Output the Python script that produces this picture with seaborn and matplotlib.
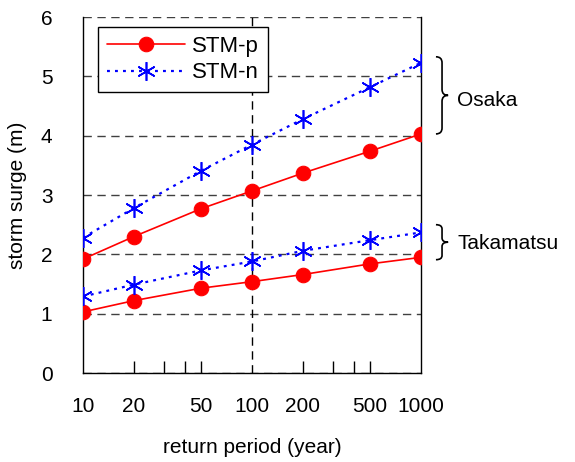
import numpy as np
import pandas as pd
import seaborn as sns
import matplotlib.pyplot as plt
from matplotlib.path import Path
from matplotlib.patches import PathPatch
import matplotlib.transforms as mtransforms

sns.set_style("white")
plt.rcParams['font.family'] = ['Liberation Sans', 'DejaVu Sans']
plt.rcParams.update({"text.color": "black", "axes.labelcolor": "black",
                     "xtick.color": "black", "ytick.color": "black"})

# valeurs
return_period = [10, 20, 50, 100, 200, 500, 1000]
osaka_p = [1.92, 2.30, 2.77, 3.07, 3.37, 3.74, 4.03]
osaka_n = [2.28, 2.78, 3.41, 3.85, 4.28, 4.82, 5.23]
takamatsu_p = [1.03, 1.22, 1.43, 1.54, 1.66, 1.84, 1.95]
takamatsu_n = [1.29, 1.49, 1.73, 1.88, 2.06, 2.24, 2.37]
xtick_labels = ["10", "20", "50", "100", "200", "500", "1000"]

fs = 15
fig = plt.figure(figsize=(5.75, 4.62), dpi=100)
ax = fig.add_axes([0.1443, 0.1926, 0.588, 0.7705])

star = (6, 2, 0)
styles = {
    "STM-p": dict(color="red", marker="o", markersize=10.5, linewidth=1.2,
                  markeredgecolor="red", linestyle="-"),
    "STM-n": dict(color="blue", marker=star, markersize=13.5, linewidth=1.6,
                  markeredgecolor="blue", markeredgewidth=1.2,
                  linestyle=(0, (1.3, 2.3))),
}
series = [("STM-p", osaka_p, True), ("STM-n", osaka_n, True),
          ("STM-p", takamatsu_p, False), ("STM-n", takamatsu_n, False)]
for name, vals, lab in series:
    df = pd.DataFrame({"x": return_period, "y": vals})
    sns.lineplot(data=df, x="x", y="y", ax=ax, label=name if lab else None,
                 legend=False, zorder=3, **styles[name])

ax.set_xscale("log")
ax.set_xlim(10, 1000)
ax.set_ylim(0, 6)
ax.xaxis.remove_overlapping_locs = False
ax.set_xticks(return_period)
ax.set_xticklabels(xtick_labels)
ax.set_xticks([20, 30, 40, 50, 200, 300, 400, 500], minor=True)
ax.tick_params(axis="x", which="major", length=0, pad=17, labelsize=fs,
               labelcolor="black")
ax.tick_params(axis="x", which="minor", direction="in", length=9, width=1,
               color="black", bottom=True, labelbottom=False)
ax.set_yticks(range(0, 7))
ax.tick_params(axis="y", length=0, pad=22, labelsize=fs, labelcolor="black")

ax.yaxis.grid(True, linestyle=(0, (6, 4)), color="#404040", linewidth=1)
ax.axvline(100, linestyle=(0, (6, 4)), color="black", linewidth=1, zorder=1)
ax.set_axisbelow(True)

for s in ["left", "bottom", "right"]:
    ax.spines[s].set_color("black")
    ax.spines[s].set_linewidth(1)
ax.spines["top"].set_visible(False)

ax.set_xlabel("return period (year)", fontsize=fs, labelpad=16, color="black")
ax.set_ylabel("storm surge (m)", fontsize=fs, labelpad=10, color="black")

leg = ax.legend(loc="upper left", bbox_to_anchor=(0.044, 0.972),
                borderaxespad=0, fontsize=16, frameon=True, fancybox=False,
                handlelength=3.5, handletextpad=0.35, borderpad=0.4,
                labelspacing=0.25)
leg.get_frame().set_edgecolor("black")
leg.get_frame().set_linewidth(1)
leg.get_frame().set_alpha(1)
for t in leg.get_texts():
    t.set_color("black")

# accolades à droite
trans = mtransforms.blended_transform_factory(ax.transAxes, ax.transData)

def brace(y0, y1, x0=1.044, w=0.036):
    ym = (y0 + y1) / 2
    r = 0.12 * (y1 - y0) if (y1 - y0) < 1 else 0.1
    xm = x0 + w / 2
    verts = [(x0, y1), (xm, y1), (xm, y1 - r),
             (xm, ym + r), (xm, ym), (x0 + w, ym),
             (xm, ym), (xm, ym - r),
             (xm, y0 + r), (xm, y0), (x0, y0)]
    codes = [Path.MOVETO, Path.CURVE3, Path.CURVE3,
             Path.LINETO, Path.CURVE3, Path.CURVE3,
             Path.CURVE3, Path.CURVE3,
             Path.LINETO, Path.CURVE3, Path.CURVE3]
    p = PathPatch(Path(verts, codes), transform=trans, fill=False,
                  edgecolor="black", linewidth=1.2, clip_on=False)
    ax.add_patch(p)

brace(4.03, 5.33)
brace(1.91, 2.50)
ax.text(1.107, 4.6, "Osaka", transform=trans, fontsize=fs, va="center", ha="left")
ax.text(1.107, 2.19, "Takamatsu", transform=trans, fontsize=fs, va="center", ha="left")

fig.savefig("out.png", dpi=100)
